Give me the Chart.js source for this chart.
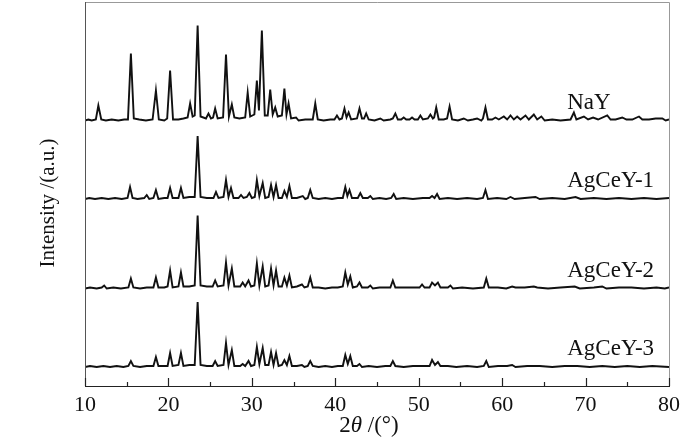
<!DOCTYPE html>
<html>
<head>
<meta charset="utf-8">
<title>XRD patterns</title>
<script src="https://cdn.jsdelivr.net/npm/chart.js@4.4.1/dist/chart.umd.min.js"></script>
<style>
  html, body { margin: 0; padding: 0; background: #fff; }
  #wrap { width: 700px; height: 437px; }
</style>
</head>
<body>
<div id="wrap"><canvas id="xrdChart" width="700" height="437"></canvas></div>
<script>
// sample names, top to bottom
var sampleNames = ["NaY", "AgCeY-1", "AgCeY-2", "AgCeY-3"];

// x axis ticks (2theta, degrees)
var majorTicks = [10, 20, 30, 40, 50, 60, 70, 80];
var minorTicks = [15, 25, 35, 45, 55, 65, 75];

// [2theta, intensity above the pattern's own baseline]
var nayPattern = [[10,0],[10.4,1],[10.8,0],[11.3,1],[11.6,15],[11.95,1],[12.5,0],[13.2,1],[14,0],[14.7,1],[15.15,1],[15.5,67],[15.85,2],[16.5,1],[17.3,0],[18.1,1],[18.5,30],[18.85,1],[19.5,0],[19.85,2],[20.2,50],[20.55,1],[21.2,1],[21.8,2],[22.3,3],[22.6,17],[22.9,4],[23.15,5],[23.5,95],[23.85,4],[24.5,2],[24.8,7],[25.1,2],[25.35,3],[25.6,12],[25.9,2],[26.55,3],[26.9,66],[27.25,4],[27.6,16],[27.9,3],[28.5,2],[29.2,3],[29.5,28],[29.8,4],[30.3,6],[30.6,40],[30.85,10],[31.2,90],[31.55,5],[31.9,5],[32.2,31],[32.5,6],[32.8,13],[33.1,4],[33.6,5],[33.9,32],[34.15,6],[34.4,17],[34.7,2],[35.3,3],[35.6,0],[36.4,1],[37.3,1],[37.6,17],[37.9,1],[38.6,0],[39.4,1],[39.9,1],[40.2,5],[40.5,1],[40.8,2],[41.1,12],[41.35,3],[41.6,8],[41.9,1],[42.6,2],[42.9,12],[43.2,2],[43.45,2],[43.7,7],[44,1],[44.7,0],[45.4,2],[45.8,0],[46.6,1],[46.9,2],[47.2,7],[47.5,1],[47.9,1],[48.2,3],[48.5,1],[48.9,1],[49.2,3],[49.5,1],[49.9,1],[50.2,5],[50.5,1],[51.1,2],[51.4,6],[51.7,2],[51.85,3],[52.1,13],[52.4,1],[53,1],[53.4,2],[53.7,14],[54,1],[54.7,0],[55.4,2],[55.9,0],[56.5,1],[57,2],[57.5,0],[57.7,2],[58,13],[58.3,1],[58.8,1],[59.2,3],[59.6,1],[60.2,4],[60.6,1],[61,5],[61.4,1],[61.8,4],[62.2,1],[62.8,5],[63.2,1],[63.8,6],[64.2,1],[64.7,4],[65.1,0],[66,1],[67,0],[68.2,1],[68.6,8],[68.9,1],[69.8,4],[70.3,1],[70.9,3],[71.5,1],[72.6,5],[73,1],[73.6,1],[74.4,3],[74.9,1],[75.6,1],[76.4,4],[76.8,1],[77.6,1],[78.4,2],[79.2,2],[79.6,0],[80,1]];

var agcey1Pattern = [[10,0],[10.5,1],[11.2,0],[12,1],[12.8,0],[13.6,1],[14.4,0],[15.1,1],[15.4,12],[15.7,1],[16.3,0],[17.1,1],[17.4,4],[17.7,0],[18.2,1],[18.5,9],[18.8,0],[19.5,1],[19.9,1],[20.2,11],[20.5,1],[21.2,1],[21.5,11],[21.8,1],[22.5,2],[23.15,2],[23.5,63],[23.85,2],[24.6,1],[25.4,1],[25.7,7],[26,1],[26.6,2],[26.9,19],[27.2,2],[27.5,11],[27.8,1],[28.4,1],[28.7,4],[29,1],[29.4,2],[29.7,6],[30,1],[30.35,2],[30.6,19],[30.9,3],[31.3,16],[31.6,1],[32,2],[32.3,14],[32.6,2],[32.9,14],[33.2,1],[33.6,1],[33.9,8],[34.2,2],[34.5,13],[34.8,1],[35.4,1],[36.1,3],[36.4,0],[36.7,1],[37,9],[37.3,1],[38,0],[38.8,1],[39.6,0],[40.3,1],[40.9,1],[41.2,12],[41.45,3],[41.7,9],[42,1],[42.7,1],[43,6],[43.3,1],[43.9,1],[44.2,3],[44.5,0],[45.3,1],[46.1,0],[46.7,1],[47,5],[47.3,0],[48.2,1],[49.3,0],[50.5,1],[51.3,1],[51.6,3],[51.9,1],[52.2,5],[52.5,0],[53.5,1],[54.6,0],[55.8,1],[57,0],[57.7,1],[58,9],[58.3,0],[59.4,1],[60.5,0],[61,2],[61.5,0],[62.7,1],[64,2],[64.5,0],[66,1],[67.5,0],[68.8,2],[69.4,0],[71,1],[72.5,0],[74,1],[75.5,0],[77,1],[78.5,0],[80,1]];

var agcey2Pattern = [[10,0],[10.6,1],[11.4,0],[12,1],[12.3,3],[12.6,0],[13.4,1],[14.3,0],[15.2,1],[15.5,10],[15.8,1],[16.6,0],[17.4,1],[18.2,1],[18.5,11],[18.8,1],[19.5,1],[19.9,2],[20.2,18],[20.5,1],[21.2,2],[21.5,16],[21.8,2],[22.5,2],[23.15,3],[23.5,73],[23.85,3],[24.6,2],[25.3,2],[25.6,8],[25.9,2],[26.6,3],[26.9,26],[27.2,3],[27.6,20],[27.9,2],[28.6,2],[28.9,6],[29.2,2],[29.6,8],[29.9,2],[30.3,3],[30.6,25],[30.9,3],[31.3,22],[31.6,2],[32,3],[32.3,20],[32.6,3],[32.9,18],[33.2,2],[33.6,2],[33.9,11],[34.2,3],[34.5,13],[34.8,1],[35.4,2],[36,4],[36.3,1],[36.7,2],[37,11],[37.3,1],[38,1],[38.8,0],[39.6,1],[40.3,1],[40.9,2],[41.2,16],[41.5,4],[41.8,12],[42.1,1],[42.6,2],[42.9,6],[43.2,1],[43.9,1],[44.2,3],[44.5,0],[45.3,1],[46.1,1],[46.6,1],[46.9,8],[47.2,1],[48.2,1],[49.3,1],[50.1,1],[50.4,4],[50.7,1],[51.3,1],[51.6,6],[51.95,3],[52.3,6],[52.6,1],[53.5,1],[53.8,3],[54.1,0],[55.2,1],[56.5,0],[57.8,1],[58.1,10],[58.4,1],[59.5,1],[60.5,0],[61.2,2],[61.6,1],[62.7,1],[63.8,2],[64.2,1],[65.5,0],[67,1],[68.7,2],[69.3,0],[71,1],[72,2],[72.5,0],[74,1],[75.5,1],[77,0],[78.5,1],[79.5,0],[80,1]];

var agcey3Pattern = [[10,0],[10.6,1],[11.4,0],[12.2,1],[13,0],[13.8,1],[14.6,0],[15.2,1],[15.5,6],[15.8,1],[16.6,0],[17.4,1],[18.2,1],[18.5,10],[18.8,1],[19.5,1],[19.9,1],[20.2,14],[20.5,1],[21.2,2],[21.5,14],[21.8,1],[22.5,2],[23.15,2],[23.5,65],[23.85,2],[24.6,1],[25.3,1],[25.6,6],[25.9,1],[26.6,2],[26.9,24],[27.2,2],[27.6,17],[27.9,1],[28.6,1],[28.9,3],[29.2,1],[29.6,6],[29.9,1],[30.3,2],[30.6,20],[30.9,3],[31.3,19],[31.6,2],[32,2],[32.3,15],[32.6,2],[32.9,14],[33.2,1],[33.6,2],[33.9,7],[34.2,2],[34.5,11],[34.8,1],[35.4,1],[36,2],[36.3,0],[36.7,1],[37,6],[37.3,1],[38,0],[38.8,1],[39.6,0],[40.3,1],[40.9,1],[41.2,12],[41.5,3],[41.8,11],[42.1,1],[42.6,1],[42.9,3],[43.2,0],[44,1],[45,0],[46,1],[46.6,1],[46.9,6],[47.2,1],[48.2,0],[49.3,1],[50.4,1],[51.3,1],[51.6,7],[51.95,2],[52.3,5],[52.6,1],[53.5,1],[54.5,0],[55.8,1],[57,0],[57.8,1],[58.1,6],[58.4,0],[59.5,1],[60.6,1],[61.2,2],[61.6,0],[63,1],[64.5,1],[66,0],[67.5,1],[69,1],[70.5,0],[72,1],[73.5,0],[75,1],[76.5,0],[78,1],[80,0]];

var patterns = [nayPattern, agcey1Pattern, agcey2Pattern, agcey3Pattern];

// vertical stacking offset of each pattern (a.u.)
var stackOffsets = [265.5, 187, 97.5, 19];

var SERIF = "'Liberation Serif', 'Times New Roman', serif";

document.addEventListener("DOMContentLoaded", function () {
  var datasets = patterns.map(function (pts, i) {
    return {
      label: sampleNames[i],
      data: pts.map(function (p) { return { x: p[0], y: p[1] + stackOffsets[i] }; }),
      borderColor: "#111",
      borderWidth: 1.9,
      pointRadius: 0,
      tension: 0,
      fill: false
    };
  });

  // frame, inward ticks, sample names and axis titles
  var decorations = {
    id: "decorations",
    beforeDraw: function (chart) {
      var ctx = chart.ctx;
      ctx.save();
      ctx.fillStyle = "#fff";
      ctx.fillRect(0, 0, chart.width, chart.height);
      ctx.restore();
    },
    afterDraw: function (chart) {
      var ctx = chart.ctx;
      var a = chart.chartArea;
      var xs = chart.scales.x, ys = chart.scales.y;
      ctx.save();

      // top and right edges are light grey, left and bottom dark
      ctx.lineWidth = 1;
      ctx.strokeStyle = "#999";
      ctx.beginPath();
      ctx.moveTo(a.left, a.top + 0.5);
      ctx.lineTo(a.right + 0.5, a.top + 0.5);
      ctx.lineTo(a.right + 0.5, a.bottom);
      ctx.stroke();
      ctx.strokeStyle = "#555";
      ctx.beginPath();
      ctx.moveTo(a.left + 0.5, a.top);
      ctx.lineTo(a.left + 0.5, a.bottom);
      ctx.stroke();
      ctx.strokeStyle = "#222";
      ctx.lineWidth = 1.2;
      ctx.beginPath();
      ctx.moveTo(a.left, a.bottom + 0.5);
      ctx.lineTo(a.right + 1, a.bottom + 0.5);
      ctx.stroke();

      // inward tick marks
      ctx.lineWidth = 1.2;
      ctx.strokeStyle = "#222";
      majorTicks.forEach(function (v) {
        var px = Math.round(xs.getPixelForValue(v)) + 0.5;
        ctx.beginPath();
        ctx.moveTo(px, a.bottom);
        ctx.lineTo(px, a.bottom - 8);
        ctx.stroke();
      });
      minorTicks.forEach(function (v) {
        var px = Math.round(xs.getPixelForValue(v)) + 0.5;
        ctx.beginPath();
        ctx.moveTo(px, a.bottom);
        ctx.lineTo(px, a.bottom - 4);
        ctx.stroke();
      });

      // sample names above each pattern's right end
      ctx.fillStyle = "#111";
      ctx.font = "23px " + SERIF;
      ctx.textAlign = "left";
      ctx.textBaseline = "alphabetic";
      sampleNames.forEach(function (name, i) {
        ctx.fillText(name, xs.getPixelForValue(67.8), ys.getPixelForValue(stackOffsets[i] + 12));
      });

      // x title: 2θ /(°) with italic theta
      var parts = [
        { t: "2", f: "23px " + SERIF },
        { t: "\u03b8", f: "italic 23px " + SERIF },
        { t: " /(\u00b0)", f: "23px " + SERIF }
      ];
      var total = 0;
      parts.forEach(function (p) { ctx.font = p.f; p.w = ctx.measureText(p.t).width; total += p.w; });
      var x0 = 369 - total / 2;
      parts.forEach(function (p) {
        ctx.font = p.f;
        ctx.fillText(p.t, x0, 432);
        x0 += p.w;
      });

      // y title
      ctx.translate(48, 203);
      ctx.rotate(-Math.PI / 2);
      ctx.font = "21px " + SERIF;
      ctx.textAlign = "center";
      ctx.textBaseline = "middle";
      ctx.fillText("Intensity /(a.u.)", 0, 0);
      ctx.restore();
    }
  };

  new Chart(document.getElementById("xrdChart").getContext("2d"), {
    type: "line",
    data: { datasets: datasets },
    options: {
      responsive: false,
      animation: false,
      events: [],
      layout: { padding: { top: 2, right: 31, left: 0, bottom: 0 } },
      plugins: {
        legend: { display: false },
        tooltip: { enabled: false }
      },
      scales: {
        x: {
          type: "linear",
          min: 10,
          max: 80,
          grid: { display: false, drawTicks: false },
          border: { display: false },
          ticks: {
            stepSize: 10,
            color: "#111",
            padding: 6,
            maxRotation: 0,
            font: { family: SERIF, size: 22 }
          },
          afterFit: function (scale) { scale.height = 51; }
        },
        y: {
          min: 0,
          max: 384,
          grid: { display: false, drawTicks: false },
          border: { display: false },
          ticks: { display: false },
          afterFit: function (scale) { scale.width = 85; }
        }
      }
    },
    plugins: [decorations]
  });
});
</script>
</body>
</html>
